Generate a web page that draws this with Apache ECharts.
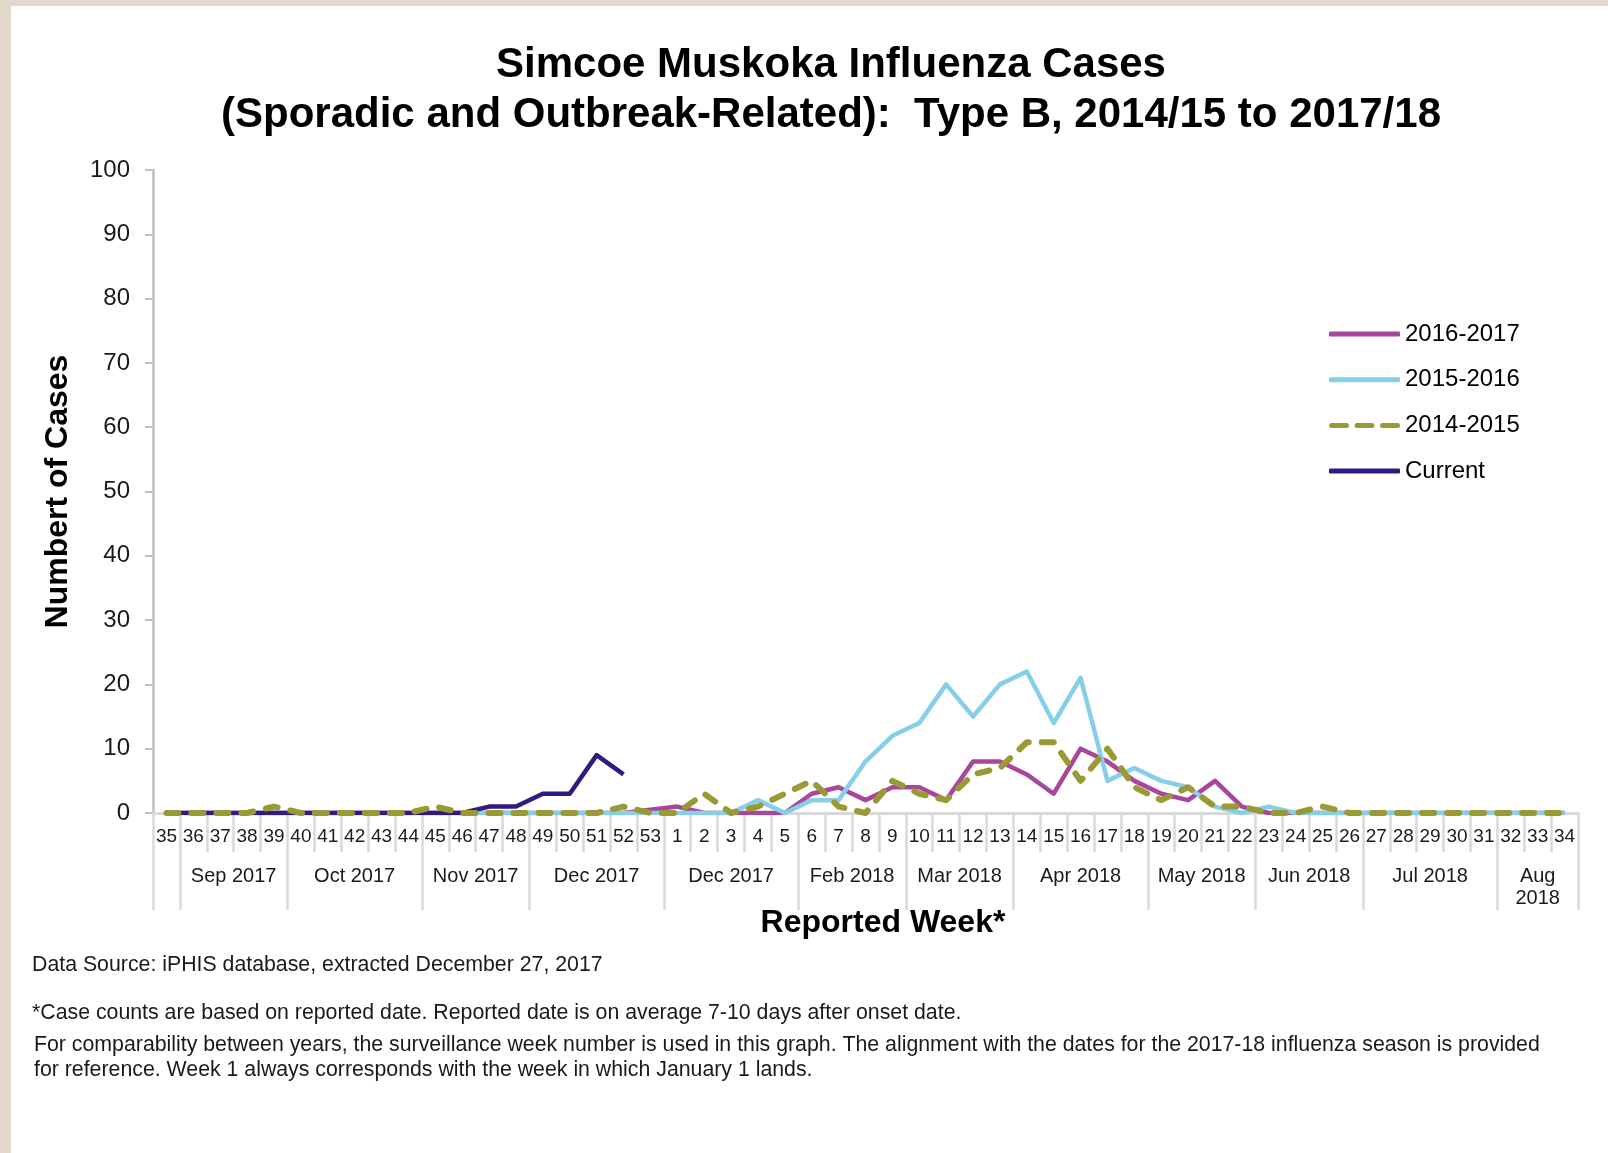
<!DOCTYPE html>
<html>
<head>
<meta charset="utf-8">
<script src="https://cdn.jsdelivr.net/npm/echarts@6/dist/echarts.min.js"></script>
<style>
html,body{margin:0;padding:0;background:#ffffff;}
#chart{width:1608px;height:1153px;}
</style>
</head>
<body>
<div id="chart"></div>
<script>
// ---- data ----
const weeks = ['35','36','37','38','39','40','41','42','43','44','45','46','47','48','49','50','51','52','53',
  '1','2','3','4','5','6','7','8','9','10','11','12','13','14','15','16','17','18','19','20','21','22',
  '23','24','25','26','27','28','29','30','31','32','33','34'];

const season2016_2017 = [0,0,0,0,0,0,0,0,0,0,0,0,0,0,0,0,0,0,0.5,
  1,0,0,0,0,3,4,2,4,4,2,8,8,6,3,10,8,5,3,2,5,1,
  0,0,0,0,0,0,0,0,0,0,0,0];

const season2015_2016 = [0,0,0,0,0,0,0,0,0,0,0,0,0,0,0,0,0,0,0,
  0,0,0,2,0,2,2,8,12,14,20,15,20,22,14,21,5,7,5,4,1,0,
  1,0,0,0,0,0,0,0,0,0,0,0];

const season2014_2015 = [0,0,0,0,1,0,0,0,0,0,1,0,0,0,0,0,0,1,0,
  0,3,0,1,3,5,1,0,5,3,2,6,7,11,11,5,10,4,2,4,1,1,
  0,0,1,0,0,0,0,0,0,0,0,0];

const currentSeason = [0,0,0,0,0,0,0,0,0,0,0,0,1,1,3,3,9,6,null,
  null,null,null,null,null,null,null,null,null,null,null,null,null,null,null,null,null,null,null,null,null,null,
  null,null,null,null,null,null,null,null,null,null,null,null];

const seriesNames = ['2016-2017','2015-2016','2014-2015','Current'];

// month groups: label and index of first week in the group
const monthLabels = ['', 'Sep 2017', 'Oct 2017', 'Nov 2017', 'Dec 2017', 'Dec 2017', 'Feb 2018',
  'Mar 2018', 'Apr 2018', 'May 2018', 'Jun 2018', 'Jul 2018', 'Aug\n2018'];
const monthStartIndex = [0, 1, 5, 10, 14, 19, 24, 28, 32, 37, 41, 45, 50];

const titleLines = ['Simcoe Muskoka Influenza Cases',
  '(Sporadic and Outbreak-Related):  Type B, 2014/15 to 2017/18'];

const footnotes = [
  'Data Source: iPHIS database, extracted December 27, 2017',
  '*Case counts are based on reported date. Reported date is on average 7-10 days after onset date.',
  'For comparability between years, the surveillance week number is used in this graph. The alignment with the dates for the 2017-18 influenza season is provided',
  'for reference. Week 1 always corresponds with the week in which January 1 lands.'
];

// ---- derived ----
const monthBounds = monthStartIndex.concat([weeks.length]);
const monthCenters = [];
const centerLabel = {};
for (let i = 0; i < monthLabels.length; i++) {
  if (!monthLabels[i]) continue;
  const c = (monthBounds[i] + monthBounds[i + 1]) / 2;
  monthCenters.push(c);
  centerLabel[c] = monthLabels[i];
}

const FONT = '"Liberation Sans", Arial, sans-serif';
const COLORS = ['#a8459d', '#87ceeb', '#9a9a35', '#311a82'];
const chart = echarts.init(document.getElementById('chart'), null, {renderer: 'canvas'});

const graphics = [
  {type: 'rect', left: 0, top: 0, shape: {width: 1608, height: 6}, style: {fill: '#e3d8cc'}, silent: true},
  {type: 'rect', left: 0, top: 0, shape: {width: 11, height: 1153}, style: {fill: '#e3d8cc'}, silent: true}
];
const titleY = [65, 115];
titleLines.forEach((t, i) => {
  graphics.push({type: 'text', x: 831, y: titleY[i], silent: true,
    style: {text: t, fontSize: 42, fontWeight: 'bold', fontFamily: FONT, fill: '#000',
      align: 'center', verticalAlign: 'middle'}});
});
const noteY = [965, 1013, 1045, 1070];
const noteX = [32, 32, 34, 34];
footnotes.forEach((t, i) => {
  graphics.push({type: 'text', x: noteX[i], y: noteY[i], silent: true,
    style: {text: t, fontSize: 21.3, fontFamily: FONT, fill: '#1a1a1a',
      align: 'left', verticalAlign: 'middle'}});
});

const dashIcon = 'path://M2.5,0h15a2.5,2.5 0 0 1 0,5h-15a2.5,2.5 0 0 1 0,-5z' +
  'M28,0h15a2.5,2.5 0 0 1 0,5h-15a2.5,2.5 0 0 1 0,-5z' +
  'M53.5,0h15a2.5,2.5 0 0 1 0,5h-15a2.5,2.5 0 0 1 0,-5z';

const option = {
  backgroundColor: '#ffffff',
  animation: false,
  textStyle: {fontFamily: FONT},
  graphic: graphics,
  grid: {left: 153, right: 30, top: 170, bottom: 340},
  legend: {
    data: [
      {name: seriesNames[0], icon: 'roundRect'},
      {name: seriesNames[1], icon: 'roundRect'},
      {name: seriesNames[2], icon: dashIcon},
      {name: seriesNames[3], icon: 'roundRect'}
    ],
    orient: 'vertical',
    left: 1324,
    top: 317,
    itemWidth: 71,
    itemHeight: 5,
    itemGap: 21.7,
    textStyle: {fontSize: 24, color: '#000', lineHeight: 24, fontFamily: FONT}
  },
  xAxis: [
    {
      type: 'category',
      data: weeks,
      boundaryGap: true,
      position: 'bottom',
      axisLine: {show: true, lineStyle: {color: '#d9d9d9', width: 3}},
      axisTick: {show: true, interval: 0, length: 39, lineStyle: {color: '#d9d9d9', width: 2.5}},
      axisLabel: {interval: 0, fontSize: 19, color: '#1a1a1a', margin: 14, fontFamily: FONT},
      splitLine: {show: false},
      name: 'Reported Week*',
      nameLocation: 'middle',
      nameGap: 94,
      nameTextStyle: {fontSize: 32, fontWeight: 'bold', color: '#000', padding: [0, 0, 0, 35], fontFamily: FONT}
    },
    {
      type: 'value',
      min: 0,
      max: weeks.length,
      position: 'bottom',
      axisLine: {show: false},
      splitLine: {show: false},
      axisTick: {show: true, customValues: monthBounds, length: 97, lineStyle: {color: '#d9d9d9', width: 2.5}},
      axisLabel: {
        customValues: monthCenters,
        formatter: function (v) { return centerLabel[v] || ''; },
        fontSize: 20, lineHeight: 22, margin: 52, color: '#1a1a1a', fontFamily: FONT
      }
    }
  ],
  yAxis: {
    type: 'value',
    min: 0,
    max: 100,
    interval: 10,
    axisLine: {show: true, lineStyle: {color: '#bfbfbf', width: 2.5}},
    axisTick: {show: true, length: 8, lineStyle: {color: '#bfbfbf', width: 2}},
    splitLine: {show: false},
    axisLabel: {fontSize: 24, color: '#1a1a1a', margin: 23, fontFamily: FONT},
    name: 'Numbert of Cases',
    nameLocation: 'middle',
    nameRotate: 90,
    nameGap: 79,
    nameTextStyle: {fontSize: 32, fontWeight: 'bold', color: '#000', fontFamily: FONT}
  },
  series: [
    {name: seriesNames[0], type: 'line', data: season2016_2017, symbol: 'none', xAxisIndex: 0,
      lineStyle: {color: COLORS[0], width: 4.5, join: 'round'}, itemStyle: {color: COLORS[0]}, z: 2},
    {name: seriesNames[1], type: 'line', data: season2015_2016, symbol: 'none', xAxisIndex: 0,
      lineStyle: {color: COLORS[1], width: 4.5, join: 'round'}, itemStyle: {color: COLORS[1]}, z: 3},
    {name: seriesNames[3], type: 'line', data: currentSeason, symbol: 'none', xAxisIndex: 0,
      lineStyle: {color: COLORS[3], width: 4.5, join: 'round'}, itemStyle: {color: COLORS[3]}, z: 4},
    {name: seriesNames[2], type: 'line', data: season2014_2015, symbol: 'none', xAxisIndex: 0,
      lineStyle: {color: COLORS[2], width: 6, type: [12, 13], cap: 'round', join: 'round'},
      itemStyle: {color: COLORS[2]}, z: 5}
  ]
};
chart.setOption(option);
</script>
</body>
</html>
